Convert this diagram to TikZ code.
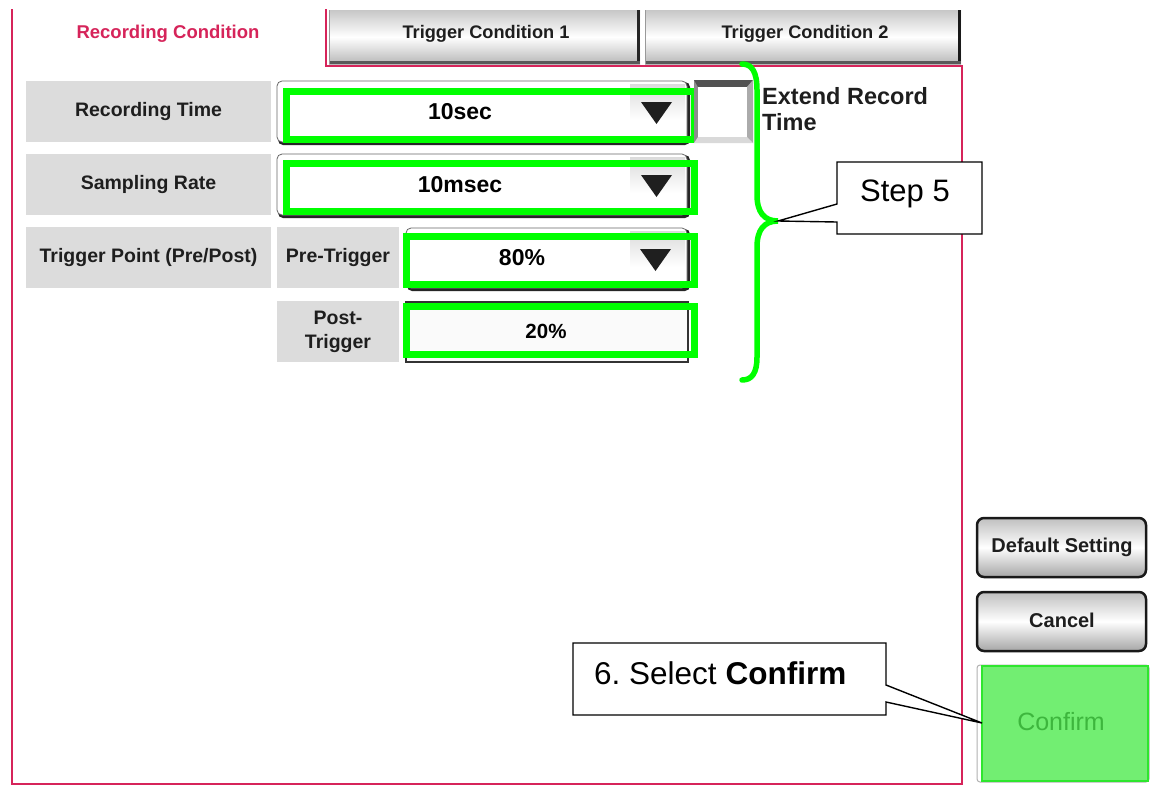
\documentclass[tikz,border=0pt]{standalone}
\usepackage{fontspec}
\setmainfont{Liberation Sans}
\frenchspacing
\definecolor{crim}{HTML}{D6245A}
\definecolor{lblgray}{HTML}{DCDCDC}
\definecolor{hi}{HTML}{00FF00}
\definecolor{cfill}{HTML}{72EE72}
\definecolor{cedge}{HTML}{2EE62E}
\definecolor{ctext}{HTML}{3DB63D}
\definecolor{txt}{HTML}{1E1E1E}
\tikzset{
  lbl/.style={fill=lblgray, inner sep=0pt, text=txt, align=center,
    font=\fontsize{19.5}{24}\selectfont\bfseries},
  tabtext/.style={text=txt, font=\fontsize{18.2}{22}\selectfont\bfseries},
  valtext/.style={text=black, font=\fontsize{23}{27}\selectfont\bfseries},
  hibox/.style={draw=hi, line width=7pt},
  ddshadow/.style={fill=black!85, rounded corners=5pt},
  ddface/.style={fill=white, draw=black!60, line width=0.8pt, rounded corners=5pt},
  tri/.style={fill=black!88},
  tabface/.style={top color=black!22, bottom color=black!28, middle color=white},
  btnface/.style={top color=black!25, bottom color=black!35, middle color=white,
    draw=black!90, line width=2.5pt, rounded corners=7pt},
  btntext/.style={text=txt, font=\fontsize{20}{24}\selectfont\bfseries},
  callout/.style={draw=black, fill=white, line width=1.4pt, line join=miter},
  calltext/.style={font=\fontsize{31}{36}\selectfont, text=black},
  redframe/.style={draw=crim, line width=2pt}
}
\begin{document}
\begin{tikzpicture}[x=1pt,y=-1pt]
\useasboundingbox (0,0) rectangle (1151,793);
\fill[white] (0,0) rectangle (1151,793);

% ---------- tabs ----------
\shade[tabface] (329,10) rectangle (640,64);
\draw[black!85, line width=3.5pt] (638.5,10) -- (638.5,64);
\draw[black!65, line width=3pt] (329,62.5) -- (640,62.5);
\draw[black!40, line width=0.8pt] (329,10) -- (329,64);
\node[tabtext] (tab1) at (486,34) {Trigger Condition 1};

\shade[tabface] (645,10) rectangle (961,64);
\draw[black!90, line width=3.5pt] (959.5,10) -- (959.5,64);
\draw[black!65, line width=3pt] (645,62.5) -- (961,62.5);
\draw[black!40, line width=0.8pt] (645,10) -- (645,64);
\node[tabtext] (tab2) at (805,34) {Trigger Condition 2};

\node[text=crim, font=\fontsize{18.5}{22}\selectfont\bfseries] (tab0) at (168,34) {Recording Condition};

% ---------- red frame ----------
\draw[redframe] (326,9) -- (326,65.5) -- (962,65.5) -- (962,784) -- (12,784) -- (12,9);

% ---------- labels ----------
\node[lbl, minimum width=245pt, minimum height=61pt] (lrt) at (148.5,111.5) {Recording Time};
\node[lbl, minimum width=245pt, minimum height=61pt] (lsr) at (148.5,184.5) {Sampling Rate};
\node[lbl, minimum width=245pt, minimum height=61pt] (ltp) at (148.5,257.5) {Trigger Point (Pre/Post)};
\node[lbl, minimum width=122pt, minimum height=61pt] (lpre) at (338,257.5) {Pre-Trigger};
\node[lbl, minimum width=122pt, minimum height=61pt] (lpost) at (338,331.5) {Post-\\Trigger};

% ---------- dropdowns ----------
% recording time
\fill[ddshadow] (278,82) rectangle (690,145);
\filldraw[ddface] (277,81) rectangle (687,142);
\shade[top color=black!14, bottom color=white] (630,84) rectangle (685,120);
\fill[tri] (641,102) -- (672,102) -- (656.5,124) -- cycle;
\node[valtext] (vrt) at (460,112) {10sec};
% sampling rate
\fill[ddshadow] (278,155) rectangle (690,218);
\filldraw[ddface] (277,154) rectangle (687,215);
\shade[top color=black!14, bottom color=white] (630,157) rectangle (685,193);
\fill[tri] (641,175) -- (672,175) -- (656.5,197) -- cycle;
\node[valtext] (vsr) at (460,185) {10msec};
% pre-trigger
\fill[ddshadow] (407,229) rectangle (690,291);
\filldraw[ddface] (406,228) rectangle (687,288);
\shade[top color=black!14, bottom color=white] (630,231) rectangle (685,267);
\fill[tri] (640,249) -- (671,249) -- (655.5,271) -- cycle;
\node[valtext] (vpre) at (522,258) {80\%};
% post-trigger field
\filldraw[fill=black!2, draw=black!80, line width=1.2pt] (406,302) rectangle (688,362);
\node[text=black, font=\fontsize{20.5}{24}\selectfont\bfseries] (vpost) at (546,331) {20\%};

% ---------- green highlights ----------
\draw[hibox] (286,91) rectangle (694,139);
\draw[hibox] (286,163) rectangle (694,211);
\draw[hibox] (406,236) rectangle (694,284);
\draw[hibox] (406,306.5) rectangle (694,354.5);

% ---------- checkbox ----------
\fill[black!45] (694,80) -- (753,80) -- (753,143) -- (694,143) -- cycle;
\fill[black!68] (694,80) -- (753,80) -- (747,87) -- (698,87) -- cycle;
\fill[black!33] (753,80) -- (753,143) -- (747,137) -- (747,87) -- cycle;
\fill[black!15] (694,143) -- (753,143) -- (747,137) -- (698,137) -- cycle;
\fill[white] (698,87) rectangle (747,137);
\node[anchor=base west, inner sep=0pt, text=txt, font=\fontsize{23.5}{28}\selectfont\bfseries] (ext1) at (762,104) {Extend Record};
\node[anchor=base west, inner sep=0pt, text=txt, font=\fontsize{23.5}{28}\selectfont\bfseries] (ext2) at (762,130) {Time};

% ---------- brace ----------
\coordinate (btip) at (778,221);
\draw[hi, line width=5.5pt, line cap=round]
  (742,64) .. controls (752,64) and (757,72) .. (757,90) -- (757,195)
  .. controls (757,212) and (764,221) .. (btip)
  .. controls (764,221) and (757,230) .. (757,247) -- (757,357)
  .. controls (757,373) and (752,380) .. (742,380);

% ---------- step 5 callout ----------
\draw[callout] (837,162) -- (982,162) -- (982,234) -- (837,234) -- (837,222) -- (btip) -- (837,204) -- cycle;
\node[calltext] (step5) at (905,194) {Step 5};

% ---------- right buttons ----------
\shade[btnface] (977,518) rectangle (1146,577);
\node[btntext] (bdef) at (1062,547) {Default Setting};
\shade[btnface] (977,592) rectangle (1146,651);
\node[btntext] (bcan) at (1062,620) {Cancel};
\draw[black!30, line width=1pt, rounded corners=3pt] (977,665) rectangle (1149,782);
\filldraw[fill=cfill, draw=cedge, line width=2pt] (982,666) rectangle (1148,781);
\node[text=ctext, font=\fontsize{25}{30}\selectfont] (bconf) at (1061,722) {Confirm};
\coordinate (ctip) at (982,723);

% ---------- confirm callout ----------
\draw[callout] (573,643) -- (886,643) -- (886,685) -- (ctip) -- (886,702) -- (886,715) -- (573,715) -- cycle;
\node[calltext, anchor=base west, inner sep=0pt, font=\fontsize{31.5}{36}\selectfont] (step6) at (594,684) {6. Select \textbf{Confirm}};
\end{tikzpicture}
\end{document}
